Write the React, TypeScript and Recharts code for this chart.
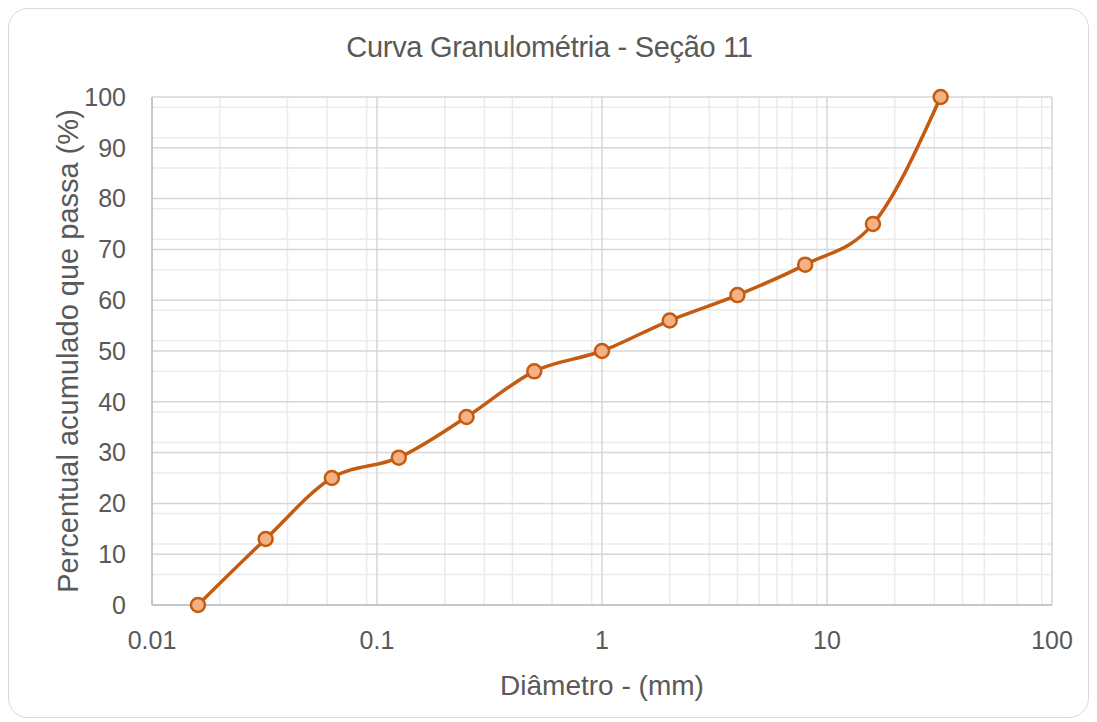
import {
  LineChart, Line, XAxis, YAxis, CartesianGrid,
} from 'recharts';

const diametros = [0.016, 0.032, 0.063, 0.125, 0.25, 0.5, 1, 2, 4, 8, 16, 32];
const passante = [0, 13, 25, 29, 37, 46, 50, 56, 61, 67, 75, 100];

const xTicks = [0.01, 0.1, 1, 10, 100];
const yTicks = [0, 10, 20, 30, 40, 50, 60, 70, 80, 90, 100];
const yMinor = [2, 4, 6, 8, 12, 14, 16, 18, 22, 24, 26, 28, 32, 34, 36, 38, 42, 44, 46, 48, 52, 54, 56, 58, 62, 64, 66, 68, 72, 74, 76, 78, 82, 84, 86, 88, 92, 94, 96, 98];
const xMinor = [
  0.02, 0.03, 0.04, 0.05, 0.06, 0.07, 0.08, 0.09,
  0.2, 0.3, 0.4, 0.5, 0.6, 0.7, 0.8, 0.9,
  2, 3, 4, 5, 6, 7, 8, 9,
  20, 30, 40, 50, 60, 70, 80, 90,
];

const data = diametros.map((d, i) => ({ d, p: passante[i] }));

const FONT = '"Liberation Sans", Arial, sans-serif';
const TXT = '#595959';
const ORANGE = '#C55A11';

export default function App() {
  return (
    <div
      style={{
        position: 'relative', width: 1081, height: 710,
        border: '1.5px solid #d9d9d9', borderRadius: 20, boxSizing: 'border-box',
        background: '#fff', fontFamily: FONT,
      }}
    >
      <div
        style={{
          position: 'absolute', left: 0, width: 1081, top: 22, textAlign: 'center',
          fontSize: 29, color: TXT, fontFamily: FONT, letterSpacing: -0.3,
        }}
      >
        Curva Granulométria - Seção 11
      </div>
      <LineChart
        width={1081}
        height={710}
        data={data}
        margin={{ top: 89, right: 37, left: 44, bottom: 63 }}
        style={{ position: 'absolute', left: -1.5, top: -1.5 }}
      >
        <CartesianGrid
          stroke="#ebebeb"
          strokeWidth={1.5}
          horizontalValues={yMinor}
          verticalValues={xMinor}
        />
        <CartesianGrid
          stroke="#d6d6d6"
          strokeWidth={1.5}
          horizontalValues={yTicks}
          verticalValues={xTicks}
        />
        <XAxis
          dataKey="d"
          type="number"
          scale="log"
          domain={[0.01, 100]}
          ticks={xTicks}
          allowDataOverflow
          height={50}
          stroke="#bfbfbf"
          strokeWidth={1.5}
          tickLine={false}
          tick={{ fill: TXT, fontSize: 25, fontFamily: FONT }}
          tickMargin={20}
          tickFormatter={(v: number) => String(v)}
          label={{ value: 'Diâmetro - (mm)', position: 'insideBottom', offset: -40, fill: TXT, fontSize: 28, fontFamily: FONT }}
        />
        <YAxis
          type="number"
          domain={[0, 100]}
          ticks={yTicks}
          width={100}
          stroke="#bfbfbf"
          strokeWidth={1.5}
          tickLine={false}
          tick={{ fill: TXT, fontSize: 25, fontFamily: FONT }}
          tickMargin={20}
          label={{
            value: 'Percentual  acumulado  que passa (%)', angle: -90, position: 'insideLeft',
            offset: 16, style: { textAnchor: 'middle' }, fill: TXT, fontSize: 29, fontFamily: FONT,
          }}
        />
        <Line
          type="monotone"
          dataKey="p"
          stroke={ORANGE}
          strokeWidth={3.5}
          dot={{ r: 7, fill: '#F4B183', stroke: ORANGE, strokeWidth: 2.5 }}
          isAnimationActive={false}
        />
      </LineChart>
    </div>
  );
}
